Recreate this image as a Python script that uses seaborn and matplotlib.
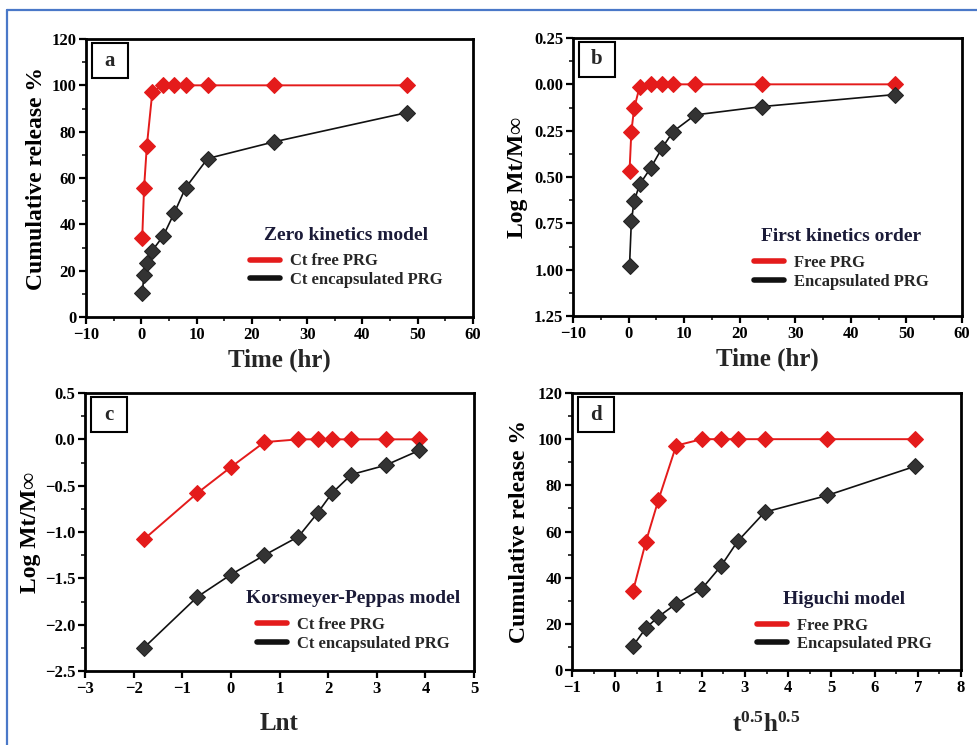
import numpy as np
import pandas as pd
import matplotlib
matplotlib.use("Agg")
import matplotlib.pyplot as plt
from matplotlib.lines import Line2D
from matplotlib.patches import Rectangle
from matplotlib.ticker import MultipleLocator
import seaborn as sns

# ---------------- data ----------------
time_hr = [0.17, 0.5, 1, 2, 4, 6, 8, 12, 24, 48]
ln_t = [-1.79, -0.69, 0.0, 0.69, 1.39, 1.79, 2.08, 2.48, 3.18, 3.87]
sqrt_t = [0.41, 0.71, 1.0, 1.41, 2.0, 2.45, 2.83, 3.46, 4.90, 6.93]

release_free = [34.1, 55.6, 73.7, 97.2, 100, 100, 100, 100, 100, 100]
release_encap = [10.4, 18.2, 23.1, 28.7, 35.1, 45.1, 55.7, 68.4, 75.6, 88.2]

log_first_free = [-0.47, -0.255, -0.13, -0.012, 0, 0, 0, 0, 0, 0]
log_first_encap = [-0.98, -0.74, -0.63, -0.54, -0.45, -0.345, -0.255, -0.165, -0.12, -0.055]

kp_free = [-1.08, -0.58, -0.30, -0.03, 0, 0, 0, 0, 0, 0]
kp_encap = [-2.25, -1.70, -1.46, -1.25, -1.05, -0.79, -0.58, -0.38, -0.28, -0.12]

b_ytick_values = [0.25, 0.0, -0.25, -0.50, -0.75, -1.00, -1.25]
b_ytick_labels = ["0.25", "0.00", "0.25", "0.50", "0.75", "1.00", "1.25"]

panel_letters = ["a", "b", "c", "d"]
legend_titles = ["Zero kinetics model", "First kinetics order",
                 "Korsmeyer-Peppas model", "Higuchi model"]
legend_labels = [["Ct free PRG", "Ct encapsulated PRG"],
                 ["Free PRG", "Encapsulated PRG"],
                 ["Ct free PRG", "Ct encapsulated PRG"],
                 ["Free PRG", "Encapsulated PRG"]]

# ---------------- style ----------------
sns.set_theme(style="ticks")
plt.rcParams["font.family"] = ["Liberation Serif", "DejaVu Serif"]
plt.rcParams["font.weight"] = "bold"
plt.rcParams["mathtext.fontset"] = "custom"
plt.rcParams["mathtext.rm"] = "Liberation Serif:bold"
plt.rcParams["mathtext.bf"] = "Liberation Serif:bold"
plt.rcParams["mathtext.it"] = "Liberation Serif:bold"
plt.rcParams["axes.unicode_minus"] = True

RED = "#e41b1b"
BLACK = "#111111"
MK_BLACK = "#333333"

W, H = 977, 745
fig = plt.figure(figsize=(W / 100, H / 100), dpi=100)


def px_axes(left, top, right, bottom):
    return fig.add_axes([left / W, 1 - bottom / H, (right - left) / W, (bottom - top) / H])


ax_a = px_axes(86, 39, 473, 317)
ax_b = px_axes(573, 38, 962, 316)
ax_c = px_axes(85, 393, 474, 671)
ax_d = px_axes(572, 393, 961, 670)
axes = [ax_a, ax_b, ax_c, ax_d]


def draw(ax, x, yf, ye):
    df = pd.DataFrame({"x": list(x) * 2, "y": list(yf) + list(ye),
                       "s": ["free"] * len(x) + ["encap"] * len(x)})
    sns.lineplot(data=df[df.s == "free"], x="x", y="y", ax=ax, color=RED,
                 marker="D", markersize=8, markeredgecolor=RED, markerfacecolor=RED,
                 lw=1.4, legend=False, zorder=3)
    sns.lineplot(data=df[df.s == "encap"], x="x", y="y", ax=ax, color=BLACK,
                 marker="D", markersize=8, markeredgecolor="#222222",
                 markerfacecolor=MK_BLACK, lw=1.2, legend=False, zorder=3)


draw(ax_a, time_hr, release_free, release_encap)
draw(ax_b, time_hr, log_first_free, log_first_encap)
draw(ax_c, ln_t, kp_free, kp_encap)
draw(ax_d, sqrt_t, release_free, release_encap)

# limits / ticks
ax_a.set_xlim(-10, 60); ax_a.set_ylim(0, 120)
ax_a.xaxis.set_major_locator(MultipleLocator(10)); ax_a.xaxis.set_minor_locator(MultipleLocator(5))
ax_a.yaxis.set_major_locator(MultipleLocator(20)); ax_a.yaxis.set_minor_locator(MultipleLocator(10))

ax_b.set_xlim(-10, 60); ax_b.set_ylim(-1.25, 0.25)
ax_b.xaxis.set_major_locator(MultipleLocator(10)); ax_b.xaxis.set_minor_locator(MultipleLocator(5))
ax_b.set_yticks(b_ytick_values)
ax_b.set_yticklabels(b_ytick_labels)
ax_b.yaxis.set_minor_locator(MultipleLocator(0.125))

ax_c.set_xlim(-3, 5); ax_c.set_ylim(-2.5, 0.5)
ax_c.xaxis.set_major_locator(MultipleLocator(1))
ax_c.yaxis.set_major_locator(MultipleLocator(0.5)); ax_c.yaxis.set_minor_locator(MultipleLocator(0.25))

ax_d.set_xlim(-1, 8); ax_d.set_ylim(0, 120)
ax_d.xaxis.set_major_locator(MultipleLocator(1)); ax_d.xaxis.set_minor_locator(MultipleLocator(0.5))
ax_d.yaxis.set_major_locator(MultipleLocator(20)); ax_d.yaxis.set_minor_locator(MultipleLocator(10))

# labels
lab_kw = dict(fontsize=17, fontweight="bold", color="black")
ax_a.set_xlabel("Time (hr)", fontsize=18, fontweight="bold", labelpad=4)
ax_a.set_ylabel("Cumulative release %", labelpad=3, **lab_kw)
ax_b.set_xlabel("Time (hr)", fontsize=18, fontweight="bold", labelpad=4)
ax_b.set_ylabel("Log Mt/M\u221e", labelpad=4, **lab_kw)
ax_c.set_xlabel("Lnt", fontsize=18, fontweight="bold", labelpad=11)
ax_c.set_ylabel("Log Mt/M\u221e", labelpad=3, **lab_kw)
ax_d.set_xlabel(r"$\mathbf{t^{0.5}h^{0.5}}$", fontsize=18, labelpad=12)
ax_d.set_ylabel("Cumulative release %", labelpad=5, **lab_kw)

legend_pos = [(0.672, 0.215), (0.69, 0.205), (0.69, 0.18), (0.70, 0.175)]

for ax, letter, title, labels, pos in zip(axes, panel_letters, legend_titles,
                                           legend_labels, legend_pos):
    for sp in ax.spines.values():
        sp.set_linewidth(2.0)
        sp.set_color("black")
        sp.set_visible(True)
    ax.tick_params(which="major", direction="out", length=5, width=1.6,
                   labelsize=12, colors="black", pad=2)
    ax.tick_params(which="minor", direction="out", length=3, width=1.3)
    ax.tick_params(top=False, right=False, which="both")
    for t in ax.get_xticklabels() + ax.get_yticklabels():
        t.set_fontweight("bold")
    ax.grid(False)

    # panel letter box
    bw = 36 / (ax.get_position().width * W)
    bh = 35 / (ax.get_position().height * H)
    x0 = 6 / (ax.get_position().width * W)
    y1 = 1 - 4 / (ax.get_position().height * H)
    ax.add_patch(Rectangle((x0, y1 - bh), bw, bh, transform=ax.transAxes,
                           fill=False, edgecolor="black", lw=1.5, zorder=5))
    ax.text(x0 + bw / 2, y1 - bh / 2, letter, transform=ax.transAxes,
            ha="center", va="center", fontsize=15, fontweight="bold", zorder=6)

    handles = [Line2D([], [], color=RED, lw=4), Line2D([], [], color=BLACK, lw=4)]
    leg = ax.legend(handles, labels, title=title, loc="center",
                    bbox_to_anchor=pos, frameon=False, fontsize=12,
                    title_fontproperties={"size": 14, "weight": "bold"},
                    handlelength=1.8, handletextpad=0.6, labelspacing=0.15,
                    borderpad=0.2)
    leg._legend_box.sep = 7
    leg.get_title().set_color("#1b1b38")
    for t in leg.get_texts():
        t.set_fontweight("bold")

# blue frame lines
fig.add_artist(Line2D([7 / W, 1], [1 - 10 / H, 1 - 10 / H], color="#4a78c8", lw=1.6,
                      transform=fig.transFigure))
fig.add_artist(Line2D([7 / W, 7 / W], [0, 1 - 10 / H], color="#4a78c8", lw=1.6,
                      transform=fig.transFigure))

fig.savefig("out.png", dpi=100)
